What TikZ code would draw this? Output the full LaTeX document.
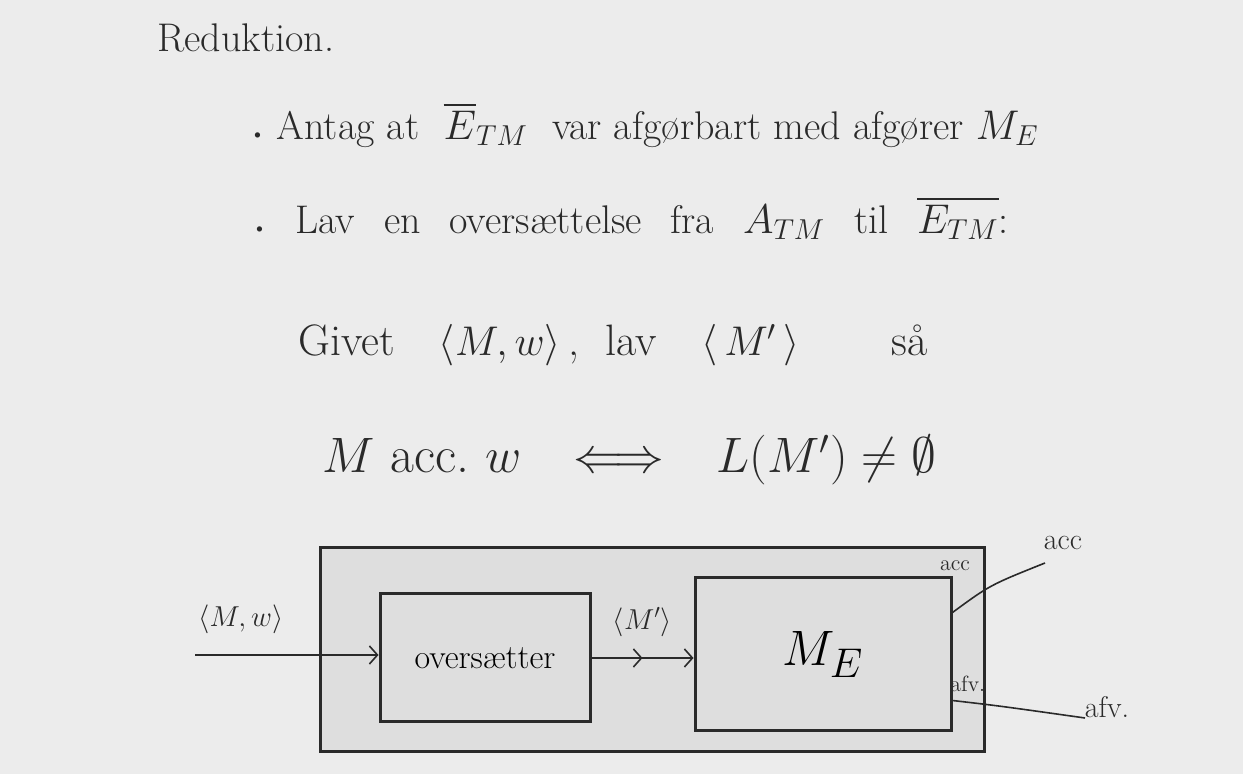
\documentclass[tikz,border=0pt]{standalone}
\usepackage{amsmath,amssymb}
\usetikzlibrary{arrows.meta,decorations.markings}
\definecolor{bg}{HTML}{ECECEC}
\definecolor{boxfill}{HTML}{DEDEDE}
\definecolor{ink}{HTML}{2A2A2A}
\tikzset{
  txt/.style={anchor=west, inner sep=0pt, text=ink},
  blk/.style={draw=ink, line width=1.5pt, fill=boxfill, inner sep=0pt},
  barb/.style={-{Straight Barb[length=4pt,width=9pt]}},
  wire/.style={draw=ink, line width=0.8pt},
  small/.style={inner sep=0pt, text=ink, font=\fontsize{11}{13}\selectfont}
}
\newcommand{\wg}{\hspace{0.72em}}
\begin{document}
\begin{tikzpicture}[x=0.5pt,y=-0.5pt]
\fill[bg] (0,0) rectangle (1243,774);
\useasboundingbox (0,0) rectangle (1243,774);

\node[txt] (title) at (157,38) {\fontsize{20}{24}\selectfont Reduktion.};
\node[txt] (l1) at (250,125) {\fontsize{20}{24}\selectfont {\small\textbullet}\ Antag at\ \ $\overline{E}_{TM}$\ \ var afgørbart med afgører\ $M_E$};
\node[txt] (l2) at (252,218) {\fontsize{20}{24}\selectfont {\small\textbullet}\wg Lav\wg en\wg oversættelse\wg fra\wg $A_{TM}$\wg til\wg $\overline{E_{TM}}$:};
\node[txt] (l3) at (298,345) {\fontsize{22}{26}\selectfont Givet\quad $\langle M, w\rangle$\,,\ \ lav\quad $\langle\, M'\,\rangle$\hspace{46pt}så};
\node[txt] (l4) at (322,460) {\fontsize{26}{30}\selectfont $M$ acc.\ $w$\quad $\Longleftrightarrow$\quad $L(M')\neq\emptyset$};

\node[blk, minimum width=332pt, minimum height=102pt] (outer) at (652,650) {};
\node[blk, minimum width=105pt, minimum height=64pt] (ov) at (485,658) {\fontsize{17}{20}\selectfont oversætter};
\node[blk, minimum width=128pt, minimum height=76.5pt] (me) at (823,654.5) {\fontsize{30}{34}\selectfont $M_E$};

\coordinate (in) at (195,655);
\draw[wire, barb] (in) -- node[pos=0.25, above=7pt, text=ink, font=\fontsize{14}{16}\selectfont] {$\langle M,w\rangle$} (in -| ov.west);
\draw[wire, barb, postaction={decorate}, decoration={markings, mark=at position 0.5 with {\arrow{Straight Barb[length=4pt,width=9pt]}}}]
  (ov.east) -- node[above=7pt, text=ink, font=\fontsize{14}{16}\selectfont] {$\langle M'\rangle$} (ov.east -| me.west);

\node[small] (accin) at (955,566) {acc};
\node[small, anchor=west] (afvin) at (950,684) {afv.};

\coordinate (accend) at (1045,563);
\coordinate (afvend) at (1085,718);
\draw[wire] ([yshift=21pt]me.east) .. controls (990,585) .. (accend);
\draw[wire] ([yshift=-23pt]me.east) .. controls (1000,706) .. (afvend);
\node[inner sep=0pt, text=ink, font=\fontsize{15}{18}\selectfont] (accout) at (1063,543) {acc};
\node[inner sep=0pt, text=ink, font=\fontsize{15}{18}\selectfont] (afvout) at (1107,707) {afv.};
\end{tikzpicture}
\end{document}
